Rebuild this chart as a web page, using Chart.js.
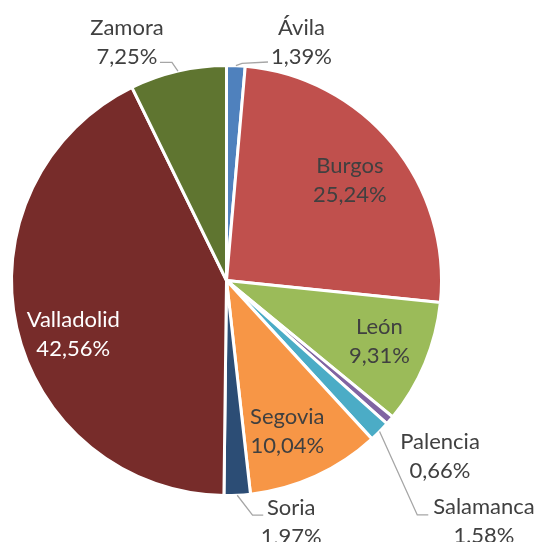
<!DOCTYPE html>
<html>
<head>
<meta charset="utf-8">
<script src="https://cdn.jsdelivr.net/npm/chart.js@4/dist/chart.umd.min.js"></script>
<style>
  html, body { margin: 0; padding: 0; background: #fff; }
  #grafico { display: block; }
</style>
</head>
<body>
<canvas id="grafico" width="537" height="542"></canvas>
<script>
// Datos del gráfico
const provincias = ['Ávila', 'Burgos', 'León', 'Palencia', 'Salamanca', 'Segovia', 'Soria', 'Valladolid', 'Zamora'];
const porcentajes = [1.39, 25.24, 9.31, 0.66, 1.58, 10.04, 1.97, 42.56, 7.25];
const colores = ['#4f81bd', '#c0504d', '#9bbb59', '#8064a2', '#4bacc6', '#f79646', '#2c4d75', '#772c2a', '#5f7530'];

// Etiquetas: fracción del radio, desplazamiento y línea guía (null = sin línea)
const radioEtiqueta = [1, 0.75, 0.75, 1, 1, 0.75, 1, 0.75, 1];
const desplazamiento = [[65.6, -23.7], [-1, 3], [4, -1.5], [50.2, 36.1], [104.4, 89.5], [-6, 4], [54, 27], [4, 18], [-51, -29]];
const lineaGuia = [
  [[6.1, -2.4], [32.1, -3.7]], null, null, null,
  [[37.7, 83.5], [48.7, 83.5]], null,
  [[15.3, 19.8], [26, 19.8]], null,
  [[-6, -8.7], [-18, -8.7]]
];
const colorTexto = ['#404040', '#404040', '#404040', '#404040', '#404040', '#404040', '#404040', '#ffffff', '#404040'];

const etiquetas = {
  id: 'etiquetas',
  afterDatasetsDraw(chart) {
    const ctx = chart.ctx;
    const arcos = chart.getDatasetMeta(0).data;
    ctx.save();
    ctx.font = '22px Lato';
    ctx.textAlign = 'center';
    ctx.textBaseline = 'middle';
    arcos.forEach((arco, i) => {
      const { x, y, startAngle, endAngle, outerRadius } = arco.getProps(['x', 'y', 'startAngle', 'endAngle', 'outerRadius'], true);
      const medio = (startAngle + endAngle) / 2;
      const r = outerRadius * radioEtiqueta[i];
      const ax = x + Math.cos(medio) * r;
      const ay = y + Math.sin(medio) * r;
      if (lineaGuia[i]) {
        ctx.strokeStyle = '#a6a6a6';
        ctx.lineWidth = 1.3;
        ctx.beginPath();
        ctx.moveTo(ax, ay);
        lineaGuia[i].forEach(p => ctx.lineTo(ax + p[0], ay + p[1]));
        ctx.stroke();
      }
      const tx = ax + desplazamiento[i][0];
      const ty = ay + desplazamiento[i][1];
      ctx.fillStyle = colorTexto[i];
      ctx.fillText(provincias[i], tx, ty - 14.5);
      ctx.fillText(porcentajes[i].toFixed(2).replace('.', ',') + '%', tx, ty + 14.5);
    });
    ctx.restore();
  }
};

const canvas = document.getElementById('grafico');
new Chart(canvas.getContext('2d'), {
  type: 'pie',
  data: {
    labels: provincias,
    datasets: [{
      data: porcentajes,
      backgroundColor: colores,
      borderColor: '#ffffff',
      borderWidth: 3,
      hoverBorderWidth: 3
    }]
  },
  options: {
    responsive: false,
    animation: false,
    layout: { padding: { left: 10, top: 64, right: 94, bottom: 45 } },
    plugins: { legend: { display: false }, tooltip: { enabled: false } }
  },
  plugins: [etiquetas]
});
</script>
</body>
</html>
